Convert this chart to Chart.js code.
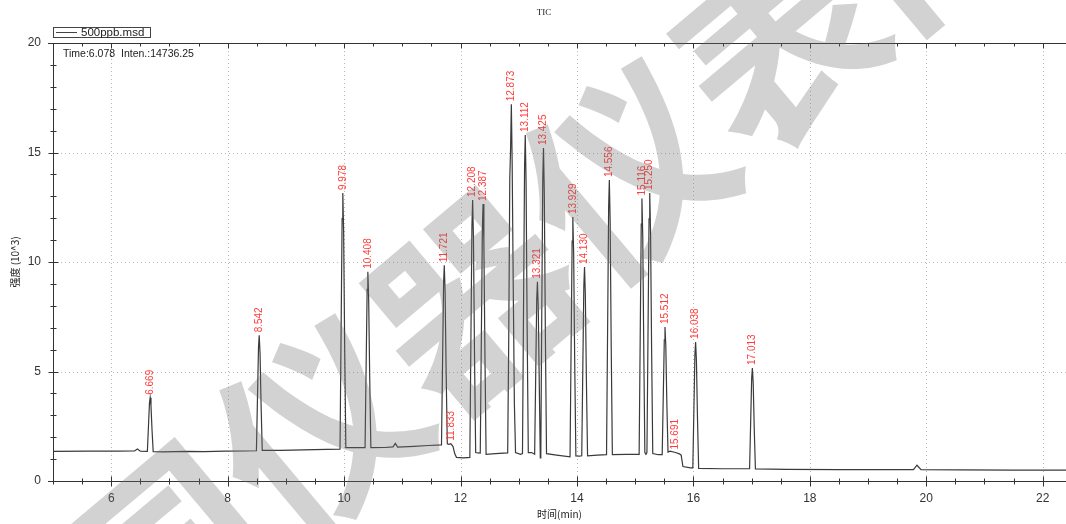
<!DOCTYPE html>
<html>
<head>
<meta charset="utf-8">
<script src="https://cdn.jsdelivr.net/npm/chart.js@4"></script>
<style>
  html, body { margin: 0; padding: 0; background: #fff; }
  #wrap { width: 1066px; height: 524px; }
</style>
</head>
<body>
<div id="wrap"><canvas id="tic"></canvas></div>
<script>
// TIC trace, time in min, intensity in 10^3
const traceTime = [
  5.00, 5.60, 6.10, 6.40, 6.45, 6.50,
  6.621, 6.639, 6.657, 6.669, 6.683, 6.701, 6.721, 6.90, 7.30, 7.60, 7.95, 8.30,
  8.494, 8.512, 8.530, 8.542, 8.556, 8.574, 8.594, 8.90, 9.30, 9.70,
  9.930, 9.948, 9.966, 9.978, 9.992, 10.010, 10.030, 10.20,
  10.360, 10.378, 10.396, 10.408, 10.422, 10.440, 10.460, 10.70, 10.84, 10.88, 10.92, 11.20, 11.45,
  11.673, 11.691, 11.709, 11.721, 11.735, 11.753, 11.773, 11.80, 11.833, 11.87, 11.90, 11.93, 12.05,
  12.160, 12.178, 12.196, 12.208, 12.222, 12.240, 12.260, 12.30,
  12.339, 12.357, 12.375, 12.387, 12.401, 12.419, 12.439, 12.60,
  12.810, 12.828, 12.846, 12.860, 12.873, 12.887, 12.905, 12.925, 12.945, 13.03,
  13.064, 13.082, 13.100, 13.112, 13.126, 13.144, 13.164, 13.22,
  13.273, 13.291, 13.309, 13.321, 13.335, 13.353, 13.370,
  13.379, 13.395, 13.413, 13.425, 13.439, 13.457, 13.477, 13.65,
  13.881, 13.899, 13.917, 13.929, 13.943, 13.961, 13.981, 14.04,
  14.082, 14.100, 14.118, 14.130, 14.144, 14.162, 14.182, 14.35,
  14.508, 14.526, 14.544, 14.556, 14.570, 14.588, 14.608, 14.85,
  15.068, 15.086, 15.104, 15.116, 15.130, 15.148, 15.166, 15.185,
  15.202, 15.220, 15.238, 15.250, 15.264, 15.282, 15.302, 15.40,
  15.464, 15.482, 15.500, 15.512, 15.526, 15.544, 15.564, 15.60, 15.691, 15.76, 15.79, 15.82, 15.95,
  15.990, 16.008, 16.026, 16.038, 16.052, 16.070, 16.090, 16.50,
  16.965, 16.983, 17.001, 17.013, 17.027, 17.045, 17.065, 17.60, 18.50, 19.20,
  19.78, 19.84, 19.91, 20.60, 21.50, 22.40
];
const traceInten = [
  1.35, 1.36, 1.36, 1.37, 1.46, 1.36,
  1.35, 2.45, 3.56, 3.80, 3.43, 2.33, 1.34, 1.33, 1.35, 1.34, 1.36, 1.37,
  1.38, 3.75, 6.12, 6.65, 5.86, 3.49, 1.40, 1.40, 1.42, 1.44,
  1.45, 6.72, 11.98, 13.15, 11.40, 6.13, 1.52, 1.53,
  1.52, 5.13, 8.75, 9.55, 8.35, 4.73, 1.52, 1.53, 1.56, 1.72, 1.55, 1.58, 1.62,
  1.65, 5.34, 9.03, 9.85, 8.62, 4.93, 1.70, 1.67, 1.70, 1.58, 1.25, 1.08, 1.06,
  1.08, 6.37, 11.66, 12.83, 11.07, 5.78, 1.30, 1.28,
  1.27, 6.39, 11.51, 12.65, 10.94, 5.82, 1.22, 1.25,
  1.28, 6.50, 13.80, 15.20, 17.20, 14.50, 9.00, 3.50, 1.30, 1.22,
  1.25, 7.80, 14.35, 15.80, 13.62, 7.07, 1.30, 1.30,
  1.22, 4.77, 8.31, 9.10, 7.92, 4.37, 1.05,
  1.20, 7.50, 13.80, 15.20, 13.10, 6.80, 1.25, 1.18,
  1.10, 6.03, 10.96, 12.05, 10.41, 5.48, 1.15, 1.14,
  1.15, 5.03, 8.91, 9.77, 8.48, 4.60, 1.15, 1.18,
  1.20, 6.84, 12.49, 13.74, 11.86, 6.22, 1.20, 1.22,
  1.22, 6.48, 11.73, 12.90, 11.15, 5.89, 1.30, 1.22,
  1.30, 6.63, 11.97, 13.15, 11.37, 6.04, 1.25, 1.20,
  1.20, 3.82, 6.45, 7.03, 6.16, 3.53, 1.32, 1.36, 1.30, 1.24, 1.18, 0.66, 0.60,
  0.60, 3.19, 5.78, 6.35, 5.49, 2.90, 0.58, 0.56,
  0.56, 2.63, 4.70, 5.16, 4.47, 2.40, 0.55, 0.53, 0.52, 0.52,
  0.52, 0.72, 0.52, 0.51, 0.50, 0.50
];

// retention times that carry a red label
const peakTimes = [
  6.669, 8.542, 9.978, 10.408, 11.721, 11.833, 12.208, 12.387, 12.873, 13.112,
  13.321, 13.425, 13.929, 14.130, 14.556, 15.116, 15.250, 15.512, 15.691, 16.038, 17.013
];

const xLabelTicks = [6, 8, 10, 12, 14, 16, 18, 20, 22];
const yLabelTicks = [0, 5, 10, 15, 20];
const yGridValues = [5, 10, 15];

const points = traceTime.map((t, i) => ({ x: t, y: traceInten[i] }));

// axis tick positions: every 0.5 min, every 1 (10^3)
const xTickValues = [];
for (let v = 5; v <= 22; v += 0.5) xTickValues.push(v);
const yTickValues = [];
for (let v = 0; v <= 20; v += 1) yTickValues.push(v);

const chromDecor = {
  id: "chromDecor",
  beforeDatasetsDraw(chart) {
    const { ctx, chartArea: a, scales } = chart;
    ctx.save();
    ctx.strokeStyle = "#b8b8b8";
    ctx.lineWidth = 1;
    ctx.setLineDash([1, 3]);
    xLabelTicks.forEach((v) => {
      const px = Math.round(scales.x.getPixelForValue(v)) + 0.5;
      ctx.beginPath();
      ctx.moveTo(px, a.top);
      ctx.lineTo(px, a.bottom);
      ctx.stroke();
    });
    yGridValues.forEach((v) => {
      const py = Math.round(scales.y.getPixelForValue(v)) + 0.5;
      ctx.beginPath();
      ctx.moveTo(a.left, py);
      ctx.lineTo(a.right, py);
      ctx.stroke();
    });
    ctx.restore();
  },
  afterDatasetsDraw(chart) {
    const { ctx, chartArea: a, scales } = chart;
    const x = scales.x, y = scales.y;
    const top = a.top + 0.5, bottom = a.bottom + 0.5, left = a.left + 0.5;
    ctx.save();
    ctx.strokeStyle = "#333";
    ctx.lineWidth = 1;
    // frame: top, bottom, left
    ctx.beginPath();
    ctx.moveTo(a.left - 5, top); ctx.lineTo(a.right, top);
    ctx.moveTo(a.left - 5, bottom); ctx.lineTo(a.right, bottom);
    ctx.moveTo(left, a.top); ctx.lineTo(left, a.bottom);
    ctx.stroke();

    // x tick marks, bottom (crossing) and top (inward)
    ctx.beginPath();
    xTickValues.forEach((v) => {
      const major = v % 2 === 0;
      const px = Math.round(x.getPixelForValue(v)) + 0.5;
      const l = major ? 5 : 3;
      ctx.moveTo(px, bottom - l); ctx.lineTo(px, bottom + l);
      ctx.moveTo(px, top); ctx.lineTo(px, top + l);
    });
    // y tick marks (crossing)
    yTickValues.forEach((v) => {
      const major = v % 5 === 0;
      const py = Math.round(y.getPixelForValue(v)) + 0.5;
      const l = major ? 5 : 3;
      ctx.moveTo(left - l, py); ctx.lineTo(left + l, py);
    });
    ctx.stroke();

    // peak labels
    ctx.fillStyle = "#ff3c3c";
    ctx.font = "10px Arial, 'Liberation Sans', sans-serif";
    ctx.textAlign = "left";
    ctx.textBaseline = "middle";
    peakTimes.forEach((rt) => {
      const apex = traceInten[traceTime.indexOf(rt)];
      const px = x.getPixelForValue(rt);
      const py = y.getPixelForValue(apex) - 3;
      ctx.save();
      ctx.translate(px, py);
      ctx.rotate(-Math.PI / 2);
      ctx.fillText(rt.toFixed(3), 0, 0);
      ctx.restore();
    });
    ctx.restore();
  },
  afterDraw(chart) {
    const { ctx, chartArea: a } = chart;
    ctx.save();
    // legend box
    ctx.strokeStyle = "#444";
    ctx.lineWidth = 1;
    ctx.strokeRect(53.5, 27.5, 97, 10);
    ctx.beginPath();
    ctx.moveTo(56, 32.5); ctx.lineTo(77, 32.5);
    ctx.stroke();
    ctx.fillStyle = "#222";
    ctx.font = "11.5px Arial, 'Liberation Sans', sans-serif";
    ctx.textBaseline = "middle";
    ctx.textAlign = "left";
    ctx.fillText("500ppb.msd", 81, 33);

    // cursor readout
    ctx.font = "10.5px Arial, 'Liberation Sans', sans-serif";
    ctx.fillText("Time:6.078  Inten.:14736.25", 63, 54);

    // title
    ctx.font = "9px 'Liberation Serif', serif";
    ctx.textAlign = "center";
    ctx.fillText("TIC", 544, 13);

    // axis titles
    ctx.font = "10px 'Noto Sans CJK SC', sans-serif";
    ctx.fillText("时间(min)", (a.left + a.right) / 2, 514);
    ctx.save();
    ctx.translate(15, (a.top + a.bottom) / 2);
    ctx.rotate(-Math.PI / 2);
    ctx.fillText("强度 (10^3)", 0, 0);
    ctx.restore();

    // watermark
    ctx.save();
    ctx.translate(472, 300);
    ctx.rotate(-40 * Math.PI / 180);
    ctx.font = "bold 200px 'Noto Sans CJK SC', sans-serif";
    ctx.fillStyle = "rgba(110, 110, 110, 0.31)";
    ctx.textAlign = "center";
    ctx.textBaseline = "middle";
    ctx.fillText("中国仪器仪表网", 0, 0);
    ctx.restore();
    ctx.restore();
  }
};

new Chart(document.getElementById("tic"), {
  type: "line",
  data: {
    datasets: [
      {
        label: "500ppb.msd",
        data: points,
        borderColor: "#3a3a3a",
        borderWidth: 1.2,
        pointRadius: 0,
        tension: 0,
      },
    ],
  },
  options: {
    responsive: true,
    maintainAspectRatio: false,
    devicePixelRatio: 1,
    animation: false,
    layout: { autoPadding: false, padding: { top: 43, left: 0, right: 0, bottom: 0 } },
    plugins: {
      legend: { display: false },
      title: { display: false },
      tooltip: { enabled: false },
    },
    scales: {
      x: {
        type: "linear",
        min: 5,
        max: 22.4,
        grid: { display: false },
        border: { display: false },
        afterBuildTicks: (scale) => { scale.ticks = xTickValues.map((v) => ({ value: v })); },
        ticks: {
          autoSkip: false,
          maxRotation: 0,
          padding: 2,
          color: "#333",
          font: { family: "Arial, 'Liberation Sans', sans-serif", size: 12 },
          callback: (v) => (xLabelTicks.includes(v) ? String(v) : ""),
        },
        afterFit: (scale) => { scale.height = 43; },
      },
      y: {
        min: 0,
        max: 20,
        grid: { display: false },
        border: { display: false },
        afterBuildTicks: (scale) => { scale.ticks = yTickValues.map((v) => ({ value: v })); },
        ticks: {
          autoSkip: false,
          padding: 4,
          color: "#333",
          font: { family: "Arial, 'Liberation Sans', sans-serif", size: 12 },
          callback: (v) => (yLabelTicks.includes(v) ? String(v) : ""),
        },
        afterFit: (scale) => { scale.width = 53; },
      },
    },
  },
  plugins: [chromDecor],
});
</script>
</body>
</html>
